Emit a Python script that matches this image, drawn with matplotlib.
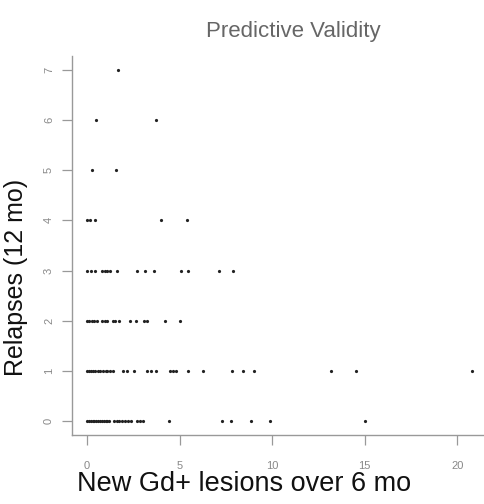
import matplotlib.pyplot as plt
import numpy as np

# relapses (y) -> new Gd+ lesions (x)
lesions_0 = [0.0, 0.1, 0.2, 0.3, 0.4, 0.5, 0.6, 0.7, 0.8, 0.9, 1.0, 1.1, 1.2,
             1.45, 1.6, 1.75, 1.9, 2.05, 2.2, 2.35, 2.7, 2.85, 3.0, 4.45,
             7.3, 7.75, 8.85, 9.9, 15.0]
lesions_1 = [0.0, 0.1, 0.2, 0.3, 0.45, 0.6, 0.7, 0.85, 1.0, 1.1, 1.25, 1.4,
             1.95, 2.15, 2.55, 3.25, 3.45, 3.7, 4.5, 4.65, 4.8, 5.45, 6.25,
             7.85, 8.4, 9.0, 13.15, 14.5, 20.8]
lesions_2 = [0.0, 0.1, 0.25, 0.4, 0.55, 0.8, 0.95, 1.1, 1.4, 1.5, 1.75,
             2.3, 2.65, 3.1, 3.25, 4.2, 5.0]
lesions_3 = [0.0, 0.2, 0.45, 0.8, 0.95, 1.1, 1.25, 1.6, 2.7, 3.15, 3.6,
             5.1, 5.45, 7.15, 7.9]
lesions_4 = [0.0, 0.15, 0.45, 4.0, 5.4]
lesions_5 = [0.25, 1.55]
lesions_6 = [0.5, 3.7]
lesions_7 = [1.7]

rows = [lesions_0, lesions_1, lesions_2, lesions_3,
        lesions_4, lesions_5, lesions_6, lesions_7]
x = np.concatenate(rows)
y = np.concatenate([[r] * len(v) for r, v in enumerate(rows)])

plt.rcParams['font.family'] = ['Liberation Sans', 'DejaVu Sans']

W, H = 484, 504
fig = plt.figure(figsize=(W / 100, H / 100), dpi=100)
ax = fig.add_axes([72 / W, 69 / H, 415 / W, 379 / H])

ax.plot(x, y, 'o', ms=2.3, color='#222222', mec='none')
ax.set_xlim(-0.81, 21.6)
ax.set_ylim(-0.28, 7.28)
ax.set_xticks([0, 5, 10, 15, 20])
ax.set_yticks(range(8))

for s in ['top', 'right']:
    ax.spines[s].set_visible(False)
for s in ['left', 'bottom']:
    ax.spines[s].set_color('#999999')
    ax.spines[s].set_linewidth(1.0)

ax.tick_params(colors='#999999', length=7, width=0.9, labelsize=8,
               labelcolor='#888888')
ax.tick_params(axis='x', pad=12)
ax.tick_params(axis='y', pad=6)
for lbl in ax.get_yticklabels():
    lbl.set_rotation(90)
    lbl.set_va('center')

fig.text(293 / W, 1 - 32 / H, 'Predictive Validity', ha='center',
         va='center', fontsize=16, color='#666666')
fig.text(244 / W, 1 - 484 / H, 'New Gd+ lesions over 6 mo', ha='center',
         va='center', fontsize=19.5, color='#111111')
fig.text(16 / W, 1 - 277 / H, 'Relapses (12 mo)', ha='center', va='center',
         rotation=90, fontsize=18, color='#111111')

fig.savefig('out.png', dpi=100)
